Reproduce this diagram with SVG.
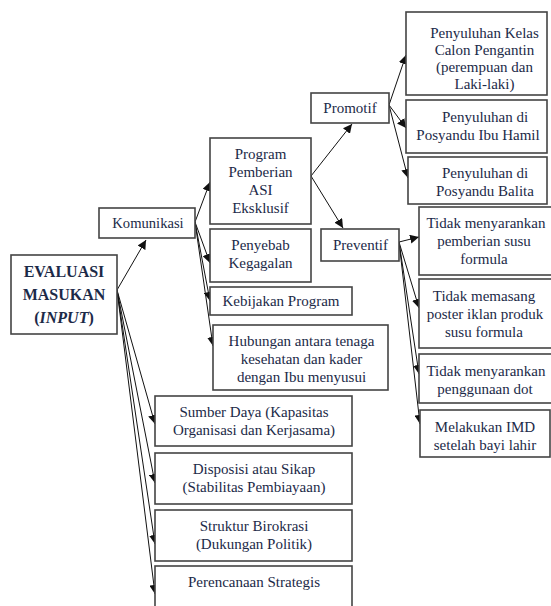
<svg xmlns="http://www.w3.org/2000/svg" width="551" height="606" viewBox="0 0 551 606">
<style>
.box{fill:#fff;stroke:#444;stroke-width:1.6}
text{font-family:'Liberation Serif','Times New Roman',Tinos,'DejaVu Serif',serif;font-size:15px;fill:#1c2a48;text-anchor:middle}
.b{font-weight:bold;font-size:16px}
.s{font-size:14.6px}
.c{stroke:#111;stroke-width:1;fill:none;marker-end:url(#ah)}
</style>
<defs>
<marker id="ah" viewBox="0 0 10 10" refX="10" refY="5" markerWidth="9" markerHeight="9" markerUnits="userSpaceOnUse" orient="auto">
<path d="M0,0 L10,5 L0,10 z" fill="#111"/>
</marker>
</defs>
<rect width="551" height="606" fill="#fff"/>
<g id="connectors">
<line class="c" x1="117" y1="290" x2="146" y2="240"/>
<line class="c" x1="117" y1="290" x2="155" y2="424"/>
<line class="c" x1="117" y1="290" x2="155" y2="483"/>
<line class="c" x1="117" y1="290" x2="155" y2="544"/>
<line class="c" x1="117" y1="290" x2="155" y2="594"/>
<line class="c" x1="195" y1="222" x2="210" y2="182"/>
<line class="c" x1="195" y1="222" x2="210" y2="263"/>
<line class="c" x1="195" y1="222" x2="210" y2="301"/>
<line class="c" x1="195" y1="222" x2="213" y2="346"/>
<line class="c" x1="311" y1="176" x2="352" y2="124"/>
<line class="c" x1="311" y1="176" x2="343" y2="228"/>
<line class="c" x1="389" y1="105" x2="406" y2="55"/>
<line class="c" x1="389" y1="105" x2="406" y2="128"/>
<line class="c" x1="389" y1="105" x2="408" y2="178"/>
<line class="c" x1="399" y1="242" x2="419" y2="237"/>
<line class="c" x1="399" y1="242" x2="419" y2="308"/>
<line class="c" x1="399" y1="242" x2="419" y2="374"/>
<line class="c" x1="399" y1="242" x2="420" y2="424"/>
</g>
<g id="evaluasi"><rect class="box" x="11" y="255" width="106" height="79"/>
<text class="b" x="64" y="277">EVALUASI</text>
<text class="b" x="64" y="300">MASUKAN</text>
<text class="b" x="64" y="323">(<tspan font-style="italic">INPUT</tspan>)</text></g>
<g id="komunikasi"><rect class="box" x="99" y="208" width="96" height="30"/>
<text class="s" x="148" y="228">Komunikasi</text></g>
<g id="program"><rect class="box" x="210" y="138" width="101" height="86"/>
<text x="260.5" y="159">Program</text>
<text x="260.5" y="177">Pemberian</text>
<text x="260.5" y="195">ASI</text>
<text x="260.5" y="213">Eksklusif</text></g>
<g id="penyebab"><rect class="box" x="210" y="229" width="101" height="53"/>
<text x="260.5" y="250">Penyebab</text>
<text x="260.5" y="268">Kegagalan</text></g>
<g id="kebijakan"><rect class="box" x="210" y="287" width="142" height="28"/>
<text x="281" y="306">Kebijakan Program</text></g>
<g id="hubungan"><rect class="box" x="213" y="325" width="175" height="65"/>
<text x="301.5" y="346">Hubungan antara tenaga</text>
<text x="301.5" y="364">kesehatan dan kader</text>
<text x="301.5" y="382">dengan Ibu menyusui</text></g>
<g id="promotif"><rect class="box" x="311" y="93" width="78" height="30"/>
<text x="350" y="113">Promotif</text></g>
<g id="preventif"><rect class="box" x="321" y="229" width="78" height="32"/>
<text x="360.5" y="250">Preventif</text></g>
<g id="kelas"><rect class="box" x="406" y="12" width="141" height="83"/>
<text x="484.5" y="38">Penyuluhan Kelas</text>
<text x="484.5" y="55">Calon Pengantin</text>
<text x="484.5" y="72">(perempuan dan</text>
<text x="484.5" y="89">Laki-laki)</text></g>
<g id="hamil"><rect class="box" x="406" y="100" width="141" height="53"/>
<text x="485" y="122">Penyuluhan di</text>
<text x="478" y="140">Posyandu Ibu Hamil</text></g>
<g id="balita"><rect class="box" x="408" y="157" width="139" height="47"/>
<text x="485" y="178">Penyuluhan di</text>
<text x="485" y="196">Posyandu Balita</text></g>
<g id="susu"><rect class="box" x="419" y="207" width="135" height="68"/>
<text x="486" y="228">Tidak menyarankan</text>
<text x="484" y="246">pemberian susu</text>
<text x="484" y="264">formula</text></g>
<g id="poster"><rect class="box" x="419" y="279" width="135" height="69"/>
<text x="484" y="301">Tidak memasang</text>
<text x="485" y="319">poster iklan produk</text>
<text x="484" y="337">susu formula</text></g>
<g id="dot"><rect class="box" x="419" y="354" width="135" height="49"/>
<text x="486" y="376">Tidak menyarankan</text>
<text x="485" y="394">penggunaan dot</text></g>
<g id="imd"><rect class="box" x="420" y="410" width="130" height="47"/>
<text x="485" y="432">Melakukan IMD</text>
<text x="485" y="450">setelah bayi lahir</text></g>
<g id="sumber"><rect class="box" x="155" y="396" width="197" height="50"/>
<text x="254" y="417">Sumber Daya (Kapasitas</text>
<text x="254" y="435">Organisasi dan Kerjasama)</text></g>
<g id="disposisi"><rect class="box" x="155" y="453" width="197" height="51"/>
<text x="254" y="474">Disposisi atau Sikap</text>
<text x="254" y="492">(Stabilitas Pembiayaan)</text></g>
<g id="struktur"><rect class="box" x="155" y="510" width="197" height="51"/>
<text x="254" y="531">Struktur Birokrasi</text>
<text x="254" y="549">(Dukungan Politik)</text></g>
<g id="perencanaan"><rect class="box" x="155" y="566" width="197" height="50"/>
<text x="254" y="587">Perencanaan Strategis</text></g>
</svg>
